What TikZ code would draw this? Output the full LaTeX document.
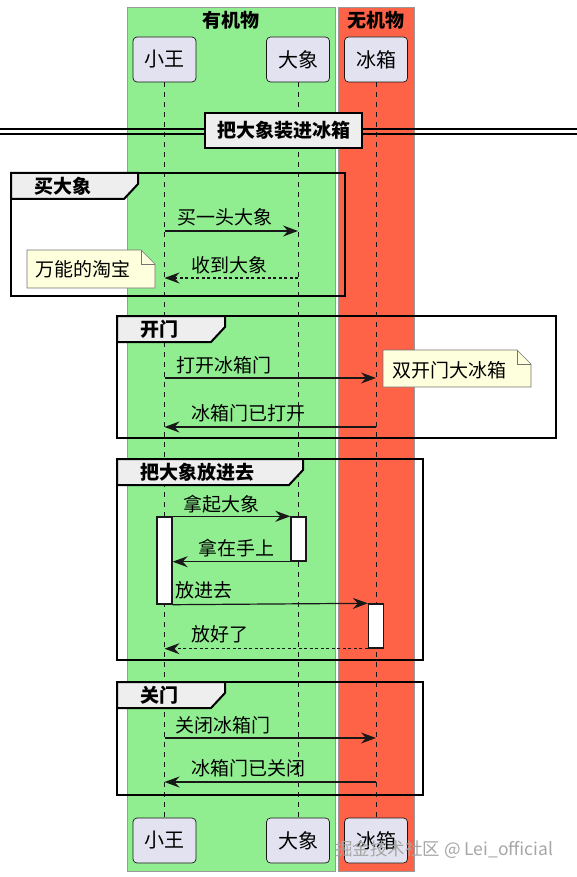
\documentclass[tikz,border=0pt]{standalone}
\usepackage{fontspec}
\setmainfont{Noto Sans CJK SC}
\usetikzlibrary{positioning, arrows.meta, calc}
\definecolor{organic}{HTML}{90EE90}
\definecolor{inorganic}{HTML}{FF6347}
\definecolor{partfill}{HTML}{E2E2F0}
\definecolor{notefill}{HTML}{FEFFDD}
\definecolor{tabfill}{HTML}{EEEEEE}
\definecolor{umlline}{HTML}{181818}

\begin{document}
\begin{tikzpicture}[x=1pt, y=-1pt,
    lane/.style={draw=black!40, line width=0.8pt},
    lanetitle/.style={font=\fontsize{19}{22}\selectfont\bfseries, inner sep=0pt},
    part/.style={rectangle, draw=umlline, fill=partfill, rounded corners=4pt, line width=0.7pt,
                 minimum width=63pt, minimum height=45pt, font=\fontsize{20}{24}\selectfont},
    life/.style={draw=umlline, line width=0.7pt, dash pattern=on 5pt off 5pt},
    grp/.style={draw=black, line width=2pt},
    tab/.style={draw=black, fill=tabfill, line width=2pt},
    grplabel/.style={font=\fontsize{19}{22}\selectfont\bfseries, inner sep=0pt, anchor=west},
    msg/.style={draw=umlline, line width=1.2pt, -{Stealth[length=15pt, width=11pt, inset=5pt]}},
    reply/.style={msg, dash pattern=on 3pt off 2.5pt},
    lbl/.style={font=\fontsize{19}{22}\selectfont, inner sep=0pt, anchor=west},
    act/.style={rectangle, draw=umlline, fill=white, line width=1.4pt, minimum width=15pt, inner sep=0pt},
    note/.style={draw=umlline!60, fill=notefill, line width=0.6pt}
  ]
  \useasboundingbox (0,0) rectangle (577,877);

  \draw[lane, fill=organic] (127,7) rectangle (335,871);
  \draw[lane, fill=inorganic] (338,7) rectangle (414,871);
  \node[lanetitle] (orgT) at (231,20) {有机物};
  \node[lanetitle] (inorgT) at (376,20) {无机物};

  \node[part] (wangT)   at (164.5,59.5) {小王};
  \node[part] (xiangT)  at (298,59.5)   {大象};
  \node[part] (fridgeT) at (376,59.5)   {冰箱};
  \node[part] (wangB)   at (164.5,840.5) {小王};
  \node[part] (xiangB)  at (298,840.5)   {大象};
  \node[part] (fridgeB) at (376,840.5)   {冰箱};
  \draw[life] (wangT) -- (wangB);
  \draw[life] (xiangT) -- (xiangB);
  \draw[life] (fridgeT) -- (fridgeB);

  \draw[line width=1.3pt] (0,129) -- (577,129) (0,134) -- (577,134);
  \node[draw, line width=2pt, fill=tabfill, minimum width=157pt, minimum height=35pt,
        font=\fontsize{19}{22}\selectfont\bfseries] (title) at (283.5,130.5) {把大象装进冰箱};

  \foreach \g/\xa/\ya/\xb/\yb/\tr/\t in {buy/11/173/345/296/138/买大象, open/117/316/556/438/225/开门,
      put/117/459/423/660/303/把大象放进去, close/117/682/423/795/225/关门} {
    \draw[grp] (\xa,\ya) rectangle (\xb,\yb);
    \draw[tab] (\xa,\ya) -- (\tr,\ya) -- (\tr,\ya+11) -- (\tr-14,\ya+26) -- (\xa,\ya+26) -- cycle;
    \node[grplabel] (\g) at (\xa+23,\ya+13) {\t};
  }

  \filldraw[note] (27,250) -- (141,250) -- (155,264) -- (155,288) -- (27,288) -- cycle;
  \draw[note, fill=none] (141,250) -- (141,264) -- (155,264);
  \node[lbl] (taobao) at (35,269) {万能的淘宝};
  \filldraw[note] (383,350) -- (517,350) -- (531,364) -- (531,387) -- (383,387) -- cycle;
  \draw[note, fill=none] (517,350) -- (517,364) -- (531,364);
  \node[lbl] (double) at (392,370) {双开门大冰箱};

  \node[act, minimum height=87pt] (actW) at (164.5,560.5) {};
  \node[act, minimum height=44pt] (actX) at (298.5,539) {};
  \node[act, minimum height=44pt] (actF) at (376,626) {};

  \foreach \n/\y in {1/231, 2/278, 3/378, 4/427, 5/738, 6/782}
    \coordinate (r\n) at (0,\y);

  \draw[msg] (wangT |- r1) -- (xiangT |- r1);
  \node[lbl] (m1) at (177,217) {买一头大象};
  \draw[reply] (xiangT |- r2) -- (wangT |- r2);
  \node[lbl] (m2) at (191,265) {收到大象};
  \draw[msg] (wangT |- r3) -- (fridgeT |- r3);
  \node[lbl] (m3) at (176,365) {打开冰箱门};
  \draw[msg] (fridgeT |- r4) -- (wangT |- r4);
  \node[lbl] (m4) at (191,413) {冰箱门已打开};
  \draw[msg] (actW.north east) -- (actX.north west);
  \node[lbl] (m5) at (183,504) {拿起大象};
  \draw[msg] (actX.south west) -- (actW.east |- actX.south);
  \node[lbl] (m6) at (198,548) {拿在手上};
  \draw[msg] (actW.south east) -- (actF.north west);
  \node[lbl] (m7) at (175,590) {放进去};
  \draw[reply] (actF.south west) -- (wangT |- actF.south);
  \node[lbl] (m8) at (191,634) {放好了};
  \draw[msg] (wangT |- r5) -- (fridgeT |- r5);
  \node[lbl] (m9) at (175,725) {关闭冰箱门};
  \draw[msg] (fridgeT |- r6) -- (wangT |- r6);
  \node[lbl] (m10) at (191,768) {冰箱门已关闭};

  \node[anchor=west, inner sep=0pt, text=black!35, font=\fontsize{17.5}{20}\selectfont] (mark) at (335,850)
    {掘金技术社区 @ Lei\_official};
\end{tikzpicture}
\end{document}
